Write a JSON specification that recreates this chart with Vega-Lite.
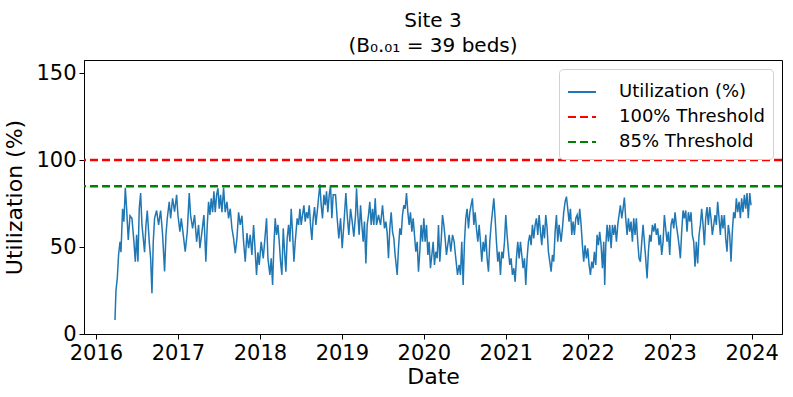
{
"$schema": "https://vega.github.io/schema/vega-lite/v6.json",
"width": 698, "height": 274,
"autosize": {"type": "none"},
"padding": {"left": 84, "top": 60, "right": 11, "bottom": 63},
"background": "white",
"title": {"text": ["Site 3", "(B₀.₀₁ = 39 beds)"], "font": "DejaVu Sans", "fontSize": 20, "fontWeight": "normal", "anchor": "middle", "offset": 4, "lineHeight": 25, "color": "black"},
"config": {
 "view": {"stroke": "black", "strokeWidth": 1},
 "axis": {"grid": false, "labelFont": "DejaVu Sans", "titleFont": "DejaVu Sans", "labelFontSize": 21, "titleFontSize": 22, "titleFontWeight": "normal", "labelColor": "black", "titleColor": "black", "tickColor": "black", "domainColor": "black", "tickSize": 5, "labelPadding": 3},
 "legend": {"orient": "none", "legendX": 475, "legendY": 9, "title": null, "labelFont": "DejaVu Sans", "labelFontSize": 18, "labelColor": "black", "symbolType": "stroke", "symbolSize": 784, "symbolStrokeWidth": 2, "fillColor": "white", "strokeColor": "#d0d0d0", "cornerRadius": 4, "padding": 8, "rowPadding": 1, "labelOffset": 22}
},
"datasets": {
 "util": [
{"t":2016.232,"u":8,"s":"Utilization (%)"},{"t":2016.244,"u":25,"s":"Utilization (%)"},{"t":2016.260,"u":32,"s":"Utilization (%)"},{"t":2016.276,"u":45.5,"s":"Utilization (%)"},{"t":2016.293,"u":53,"s":"Utilization (%)"},{"t":2016.305,"u":47,"s":"Utilization (%)"},{"t":2016.325,"u":72,"s":"Utilization (%)"},{"t":2016.341,"u":64.6,"s":"Utilization (%)"},{"t":2016.358,"u":84,"s":"Utilization (%)"},{"t":2016.374,"u":72,"s":"Utilization (%)"},{"t":2016.394,"u":54,"s":"Utilization (%)"},{"t":2016.415,"u":68,"s":"Utilization (%)"},{"t":2016.439,"u":66.5,"s":"Utilization (%)"},{"t":2016.463,"u":53,"s":"Utilization (%)"},{"t":2016.480,"u":41.6,"s":"Utilization (%)"},{"t":2016.496,"u":57,"s":"Utilization (%)"},{"t":2016.512,"u":41.6,"s":"Utilization (%)"},{"t":2016.528,"u":72,"s":"Utilization (%)"},{"t":2016.545,"u":81,"s":"Utilization (%)"},{"t":2016.561,"u":62.7,"s":"Utilization (%)"},{"t":2016.577,"u":55,"s":"Utilization (%)"},{"t":2016.593,"u":47,"s":"Utilization (%)"},{"t":2016.610,"u":62.7,"s":"Utilization (%)"},{"t":2016.626,"u":71,"s":"Utilization (%)"},{"t":2016.650,"u":53,"s":"Utilization (%)"},{"t":2016.667,"u":43.5,"s":"Utilization (%)"},{"t":2016.683,"u":23.4,"s":"Utilization (%)"},{"t":2016.699,"u":53,"s":"Utilization (%)"},{"t":2016.715,"u":66.5,"s":"Utilization (%)"},{"t":2016.740,"u":71,"s":"Utilization (%)"},{"t":2016.764,"u":62.7,"s":"Utilization (%)"},{"t":2016.789,"u":71,"s":"Utilization (%)"},{"t":2016.813,"u":57,"s":"Utilization (%)"},{"t":2016.837,"u":36,"s":"Utilization (%)"},{"t":2016.854,"u":57,"s":"Utilization (%)"},{"t":2016.870,"u":66.5,"s":"Utilization (%)"},{"t":2016.894,"u":76,"s":"Utilization (%)"},{"t":2016.911,"u":66.5,"s":"Utilization (%)"},{"t":2016.935,"u":78,"s":"Utilization (%)"},{"t":2016.959,"u":70.3,"s":"Utilization (%)"},{"t":2016.984,"u":80,"s":"Utilization (%)"},{"t":2017.000,"u":68.4,"s":"Utilization (%)"},{"t":2017.024,"u":58.8,"s":"Utilization (%)"},{"t":2017.041,"u":66.5,"s":"Utilization (%)"},{"t":2017.065,"u":57,"s":"Utilization (%)"},{"t":2017.089,"u":47.3,"s":"Utilization (%)"},{"t":2017.114,"u":58.8,"s":"Utilization (%)"},{"t":2017.138,"u":81,"s":"Utilization (%)"},{"t":2017.154,"u":68.4,"s":"Utilization (%)"},{"t":2017.179,"u":60.7,"s":"Utilization (%)"},{"t":2017.203,"u":68.4,"s":"Utilization (%)"},{"t":2017.228,"u":53,"s":"Utilization (%)"},{"t":2017.252,"u":62.7,"s":"Utilization (%)"},{"t":2017.268,"u":49.3,"s":"Utilization (%)"},{"t":2017.293,"u":58.8,"s":"Utilization (%)"},{"t":2017.317,"u":68.4,"s":"Utilization (%)"},{"t":2017.341,"u":41.6,"s":"Utilization (%)"},{"t":2017.358,"u":62.7,"s":"Utilization (%)"},{"t":2017.374,"u":76,"s":"Utilization (%)"},{"t":2017.390,"u":68.4,"s":"Utilization (%)"},{"t":2017.407,"u":78,"s":"Utilization (%)"},{"t":2017.423,"u":70,"s":"Utilization (%)"},{"t":2017.439,"u":82,"s":"Utilization (%)"},{"t":2017.455,"u":70,"s":"Utilization (%)"},{"t":2017.472,"u":80,"s":"Utilization (%)"},{"t":2017.488,"u":83.7,"s":"Utilization (%)"},{"t":2017.504,"u":72,"s":"Utilization (%)"},{"t":2017.520,"u":80,"s":"Utilization (%)"},{"t":2017.537,"u":70,"s":"Utilization (%)"},
{"t":2017.557,"u":84,"s":"Utilization (%)"},{"t":2017.577,"u":70,"s":"Utilization (%)"},{"t":2017.598,"u":76,"s":"Utilization (%)"},{"t":2017.618,"u":66.5,"s":"Utilization (%)"},{"t":2017.638,"u":72,"s":"Utilization (%)"},{"t":2017.659,"u":60.7,"s":"Utilization (%)"},{"t":2017.679,"u":55,"s":"Utilization (%)"},{"t":2017.699,"u":46.4,"s":"Utilization (%)"},{"t":2017.720,"u":55,"s":"Utilization (%)"},{"t":2017.740,"u":70,"s":"Utilization (%)"},{"t":2017.760,"u":62.7,"s":"Utilization (%)"},{"t":2017.781,"u":68,"s":"Utilization (%)"},{"t":2017.801,"u":53,"s":"Utilization (%)"},{"t":2017.821,"u":41.6,"s":"Utilization (%)"},{"t":2017.842,"u":58,"s":"Utilization (%)"},{"t":2017.862,"u":49.3,"s":"Utilization (%)"},{"t":2017.882,"u":57,"s":"Utilization (%)"},{"t":2017.902,"u":45.4,"s":"Utilization (%)"},{"t":2017.923,"u":62.7,"s":"Utilization (%)"},{"t":2017.943,"u":47.3,"s":"Utilization (%)"},{"t":2017.959,"u":34,"s":"Utilization (%)"},{"t":2017.976,"u":47,"s":"Utilization (%)"},{"t":2017.992,"u":39.7,"s":"Utilization (%)"},{"t":2018.016,"u":53,"s":"Utilization (%)"},{"t":2018.041,"u":43.5,"s":"Utilization (%)"},{"t":2018.065,"u":57,"s":"Utilization (%)"},{"t":2018.081,"u":66.5,"s":"Utilization (%)"},{"t":2018.098,"u":43.5,"s":"Utilization (%)"},{"t":2018.122,"u":34,"s":"Utilization (%)"},{"t":2018.138,"u":43.5,"s":"Utilization (%)"},{"t":2018.155,"u":28.2,"s":"Utilization (%)"},{"t":2018.171,"u":51,"s":"Utilization (%)"},{"t":2018.187,"u":66.5,"s":"Utilization (%)"},{"t":2018.203,"u":57,"s":"Utilization (%)"},{"t":2018.220,"u":62.7,"s":"Utilization (%)"},{"t":2018.236,"u":53,"s":"Utilization (%)"},{"t":2018.252,"u":41.6,"s":"Utilization (%)"},{"t":2018.268,"u":34,"s":"Utilization (%)"},{"t":2018.285,"u":60.7,"s":"Utilization (%)"},{"t":2018.301,"u":47.3,"s":"Utilization (%)"},{"t":2018.317,"u":35.8,"s":"Utilization (%)"},{"t":2018.333,"u":55,"s":"Utilization (%)"},{"t":2018.350,"u":62.7,"s":"Utilization (%)"},{"t":2018.366,"u":53,"s":"Utilization (%)"},{"t":2018.382,"u":72,"s":"Utilization (%)"},{"t":2018.398,"u":58.8,"s":"Utilization (%)"},{"t":2018.415,"u":41.6,"s":"Utilization (%)"},{"t":2018.431,"u":53,"s":"Utilization (%)"},{"t":2018.455,"u":66.5,"s":"Utilization (%)"},{"t":2018.472,"u":62.7,"s":"Utilization (%)"},{"t":2018.488,"u":72,"s":"Utilization (%)"},{"t":2018.504,"u":62.7,"s":"Utilization (%)"},{"t":2018.520,"u":68.4,"s":"Utilization (%)"},{"t":2018.537,"u":74,"s":"Utilization (%)"},{"t":2018.553,"u":64.6,"s":"Utilization (%)"},{"t":2018.569,"u":70,"s":"Utilization (%)"},{"t":2018.585,"u":66.5,"s":"Utilization (%)"},{"t":2018.602,"u":74,"s":"Utilization (%)"},{"t":2018.618,"u":62.7,"s":"Utilization (%)"},{"t":2018.634,"u":54,"s":"Utilization (%)"},{"t":2018.650,"u":66.5,"s":"Utilization (%)"},{"t":2018.667,"u":73,"s":"Utilization (%)"},{"t":2018.683,"u":62.7,"s":"Utilization (%)"},{"t":2018.699,"u":70,"s":"Utilization (%)"},{"t":2018.715,"u":78,"s":"Utilization (%)"},{"t":2018.732,"u":86,"s":"Utilization (%)"},{"t":2018.748,"u":74,"s":"Utilization (%)"},{"t":2018.764,"u":66.5,"s":"Utilization (%)"},{"t":2018.781,"u":80,"s":"Utilization (%)"},{"t":2018.797,"u":74,"s":"Utilization (%)"},{"t":2018.813,"u":82,"s":"Utilization (%)"},{"t":2018.829,"u":70,"s":"Utilization (%)"},{"t":2018.846,"u":80,"s":"Utilization (%)"},{"t":2018.862,"u":85.6,"s":"Utilization (%)"},{"t":2018.878,"u":66.5,"s":"Utilization (%)"},{"t":2018.894,"u":80,"s":"Utilization (%)"},
{"t":2018.923,"u":80,"s":"Utilization (%)"},{"t":2018.943,"u":66.5,"s":"Utilization (%)"},{"t":2018.963,"u":55,"s":"Utilization (%)"},{"t":2018.984,"u":66.5,"s":"Utilization (%)"},{"t":2019.004,"u":49.3,"s":"Utilization (%)"},{"t":2019.024,"u":62.7,"s":"Utilization (%)"},{"t":2019.049,"u":81,"s":"Utilization (%)"},{"t":2019.065,"u":68.4,"s":"Utilization (%)"},{"t":2019.085,"u":57,"s":"Utilization (%)"},{"t":2019.106,"u":72,"s":"Utilization (%)"},{"t":2019.126,"u":64.6,"s":"Utilization (%)"},{"t":2019.146,"u":56,"s":"Utilization (%)"},{"t":2019.167,"u":68.4,"s":"Utilization (%)"},{"t":2019.179,"u":83.7,"s":"Utilization (%)"},{"t":2019.195,"u":68.4,"s":"Utilization (%)"},{"t":2019.211,"u":57,"s":"Utilization (%)"},{"t":2019.228,"u":74,"s":"Utilization (%)"},{"t":2019.244,"u":62.7,"s":"Utilization (%)"},{"t":2019.260,"u":53,"s":"Utilization (%)"},{"t":2019.276,"u":64.6,"s":"Utilization (%)"},{"t":2019.293,"u":40.6,"s":"Utilization (%)"},{"t":2019.309,"u":62.7,"s":"Utilization (%)"},{"t":2019.325,"u":68.4,"s":"Utilization (%)"},{"t":2019.341,"u":76,"s":"Utilization (%)"},{"t":2019.358,"u":62.7,"s":"Utilization (%)"},{"t":2019.374,"u":72,"s":"Utilization (%)"},{"t":2019.390,"u":62.7,"s":"Utilization (%)"},{"t":2019.407,"u":78,"s":"Utilization (%)"},{"t":2019.423,"u":62.7,"s":"Utilization (%)"},{"t":2019.447,"u":68.4,"s":"Utilization (%)"},{"t":2019.472,"u":62.7,"s":"Utilization (%)"},{"t":2019.496,"u":74,"s":"Utilization (%)"},{"t":2019.520,"u":60.7,"s":"Utilization (%)"},{"t":2019.537,"u":64.6,"s":"Utilization (%)"},{"t":2019.553,"u":58,"s":"Utilization (%)"},{"t":2019.569,"u":43.5,"s":"Utilization (%)"},{"t":2019.585,"u":60.7,"s":"Utilization (%)"},{"t":2019.602,"u":70,"s":"Utilization (%)"},{"t":2019.618,"u":58.8,"s":"Utilization (%)"},{"t":2019.634,"u":55,"s":"Utilization (%)"},{"t":2019.650,"u":45.4,"s":"Utilization (%)"},{"t":2019.667,"u":37.8,"s":"Utilization (%)"},{"t":2019.675,"u":34,"s":"Utilization (%)"},{"t":2019.691,"u":49.3,"s":"Utilization (%)"},{"t":2019.707,"u":60.7,"s":"Utilization (%)"},{"t":2019.724,"u":57,"s":"Utilization (%)"},{"t":2019.740,"u":68.4,"s":"Utilization (%)"},{"t":2019.756,"u":74,"s":"Utilization (%)"},{"t":2019.772,"u":72,"s":"Utilization (%)"},{"t":2019.789,"u":81,"s":"Utilization (%)"},{"t":2019.805,"u":70,"s":"Utilization (%)"},{"t":2019.821,"u":62.7,"s":"Utilization (%)"},{"t":2019.837,"u":70,"s":"Utilization (%)"},{"t":2019.854,"u":58.8,"s":"Utilization (%)"},{"t":2019.870,"u":66.5,"s":"Utilization (%)"},{"t":2019.886,"u":57,"s":"Utilization (%)"},{"t":2019.902,"u":47.3,"s":"Utilization (%)"},{"t":2019.919,"u":53,"s":"Utilization (%)"},{"t":2019.935,"u":35.8,"s":"Utilization (%)"},{"t":2019.951,"u":47.3,"s":"Utilization (%)"},{"t":2019.967,"u":62.7,"s":"Utilization (%)"},{"t":2019.984,"u":53,"s":"Utilization (%)"},{"t":2020.000,"u":66.5,"s":"Utilization (%)"},{"t":2020.016,"u":53,"s":"Utilization (%)"},{"t":2020.033,"u":62.7,"s":"Utilization (%)"},{"t":2020.049,"u":45.4,"s":"Utilization (%)"},{"t":2020.065,"u":53,"s":"Utilization (%)"},{"t":2020.081,"u":37.8,"s":"Utilization (%)"},{"t":2020.098,"u":45.4,"s":"Utilization (%)"},{"t":2020.114,"u":53,"s":"Utilization (%)"},{"t":2020.130,"u":39.7,"s":"Utilization (%)"},{"t":2020.146,"u":47.3,"s":"Utilization (%)"},{"t":2020.163,"u":43.5,"s":"Utilization (%)"},{"t":2020.179,"u":62.7,"s":"Utilization (%)"},{"t":2020.195,"u":41.6,"s":"Utilization (%)"},{"t":2020.211,"u":53,"s":"Utilization (%)"},{"t":2020.228,"u":68.4,"s":"Utilization (%)"},{"t":2020.244,"u":62.7,"s":"Utilization (%)"},{"t":2020.260,"u":55,"s":"Utilization (%)"},{"t":2020.276,"u":45.4,"s":"Utilization (%)"},
{"t":2020.309,"u":57,"s":"Utilization (%)"},{"t":2020.329,"u":47.3,"s":"Utilization (%)"},{"t":2020.350,"u":57,"s":"Utilization (%)"},{"t":2020.370,"u":53,"s":"Utilization (%)"},{"t":2020.390,"u":43.5,"s":"Utilization (%)"},{"t":2020.411,"u":34,"s":"Utilization (%)"},{"t":2020.431,"u":39.7,"s":"Utilization (%)"},{"t":2020.447,"u":34,"s":"Utilization (%)"},{"t":2020.463,"u":53,"s":"Utilization (%)"},{"t":2020.480,"u":28.2,"s":"Utilization (%)"},{"t":2020.496,"u":53,"s":"Utilization (%)"},{"t":2020.512,"u":66.5,"s":"Utilization (%)"},{"t":2020.528,"u":72,"s":"Utilization (%)"},{"t":2020.545,"u":60.7,"s":"Utilization (%)"},{"t":2020.561,"u":70,"s":"Utilization (%)"},{"t":2020.577,"u":74,"s":"Utilization (%)"},{"t":2020.593,"u":78,"s":"Utilization (%)"},{"t":2020.610,"u":62.7,"s":"Utilization (%)"},{"t":2020.626,"u":70,"s":"Utilization (%)"},{"t":2020.642,"u":60.7,"s":"Utilization (%)"},{"t":2020.659,"u":53,"s":"Utilization (%)"},{"t":2020.675,"u":62.7,"s":"Utilization (%)"},{"t":2020.691,"u":53,"s":"Utilization (%)"},{"t":2020.707,"u":41.6,"s":"Utilization (%)"},{"t":2020.724,"u":53,"s":"Utilization (%)"},{"t":2020.740,"u":47.3,"s":"Utilization (%)"},{"t":2020.756,"u":57,"s":"Utilization (%)"},{"t":2020.772,"u":43.5,"s":"Utilization (%)"},{"t":2020.789,"u":35.8,"s":"Utilization (%)"},{"t":2020.805,"u":53,"s":"Utilization (%)"},{"t":2020.821,"u":62.7,"s":"Utilization (%)"},{"t":2020.837,"u":70,"s":"Utilization (%)"},{"t":2020.854,"u":78,"s":"Utilization (%)"},{"t":2020.870,"u":66.5,"s":"Utilization (%)"},{"t":2020.886,"u":53,"s":"Utilization (%)"},{"t":2020.902,"u":41.6,"s":"Utilization (%)"},{"t":2020.919,"u":47.3,"s":"Utilization (%)"},{"t":2020.935,"u":34,"s":"Utilization (%)"},{"t":2020.951,"u":47.3,"s":"Utilization (%)"},{"t":2020.967,"u":43.5,"s":"Utilization (%)"},{"t":2020.984,"u":53,"s":"Utilization (%)"},{"t":2021.000,"u":68.4,"s":"Utilization (%)"},{"t":2021.016,"u":57,"s":"Utilization (%)"},{"t":2021.033,"u":47.3,"s":"Utilization (%)"},{"t":2021.049,"u":39.7,"s":"Utilization (%)"},{"t":2021.065,"u":43.5,"s":"Utilization (%)"},{"t":2021.081,"u":34,"s":"Utilization (%)"},{"t":2021.098,"u":37.8,"s":"Utilization (%)"},{"t":2021.114,"u":30,"s":"Utilization (%)"},{"t":2021.130,"u":43.5,"s":"Utilization (%)"},{"t":2021.146,"u":53,"s":"Utilization (%)"},{"t":2021.163,"u":43.5,"s":"Utilization (%)"},{"t":2021.179,"u":53,"s":"Utilization (%)"},{"t":2021.195,"u":45.4,"s":"Utilization (%)"},{"t":2021.211,"u":37.8,"s":"Utilization (%)"},{"t":2021.228,"u":43.5,"s":"Utilization (%)"},{"t":2021.244,"u":28.2,"s":"Utilization (%)"},{"t":2021.260,"u":43.5,"s":"Utilization (%)"},{"t":2021.276,"u":53,"s":"Utilization (%)"},{"t":2021.293,"u":57,"s":"Utilization (%)"},{"t":2021.309,"u":51,"s":"Utilization (%)"},{"t":2021.325,"u":62.7,"s":"Utilization (%)"},{"t":2021.341,"u":55,"s":"Utilization (%)"},{"t":2021.358,"u":62.7,"s":"Utilization (%)"},{"t":2021.374,"u":66.5,"s":"Utilization (%)"},{"t":2021.390,"u":57,"s":"Utilization (%)"},{"t":2021.407,"u":68.4,"s":"Utilization (%)"},{"t":2021.423,"u":58.8,"s":"Utilization (%)"},{"t":2021.439,"u":51,"s":"Utilization (%)"},{"t":2021.455,"u":62.7,"s":"Utilization (%)"},{"t":2021.472,"u":55,"s":"Utilization (%)"},{"t":2021.488,"u":68.4,"s":"Utilization (%)"},{"t":2021.504,"u":60.7,"s":"Utilization (%)"},{"t":2021.520,"u":47.3,"s":"Utilization (%)"},{"t":2021.537,"u":41.6,"s":"Utilization (%)"},{"t":2021.553,"u":35.8,"s":"Utilization (%)"},{"t":2021.569,"u":45.4,"s":"Utilization (%)"},{"t":2021.585,"u":41.6,"s":"Utilization (%)"},{"t":2021.602,"u":58.8,"s":"Utilization (%)"},{"t":2021.618,"u":68.4,"s":"Utilization (%)"},{"t":2021.634,"u":53,"s":"Utilization (%)"},{"t":2021.650,"u":62.7,"s":"Utilization (%)"},
{"t":2021.675,"u":53,"s":"Utilization (%)"},{"t":2021.691,"u":60.7,"s":"Utilization (%)"},{"t":2021.707,"u":70,"s":"Utilization (%)"},{"t":2021.724,"u":76,"s":"Utilization (%)"},{"t":2021.740,"u":79,"s":"Utilization (%)"},{"t":2021.756,"u":72,"s":"Utilization (%)"},{"t":2021.772,"u":64.6,"s":"Utilization (%)"},{"t":2021.789,"u":72,"s":"Utilization (%)"},{"t":2021.805,"u":57,"s":"Utilization (%)"},{"t":2021.821,"u":64.6,"s":"Utilization (%)"},{"t":2021.837,"u":57,"s":"Utilization (%)"},{"t":2021.854,"u":66.5,"s":"Utilization (%)"},{"t":2021.870,"u":68.4,"s":"Utilization (%)"},{"t":2021.886,"u":62.7,"s":"Utilization (%)"},{"t":2021.902,"u":72,"s":"Utilization (%)"},{"t":2021.919,"u":62.7,"s":"Utilization (%)"},{"t":2021.935,"u":51,"s":"Utilization (%)"},{"t":2021.951,"u":41.6,"s":"Utilization (%)"},{"t":2021.967,"u":51,"s":"Utilization (%)"},{"t":2021.984,"u":43.5,"s":"Utilization (%)"},{"t":2022.000,"u":49.3,"s":"Utilization (%)"},{"t":2022.016,"u":39.7,"s":"Utilization (%)"},{"t":2022.033,"u":34,"s":"Utilization (%)"},{"t":2022.049,"u":41.6,"s":"Utilization (%)"},{"t":2022.065,"u":37.8,"s":"Utilization (%)"},{"t":2022.081,"u":47.3,"s":"Utilization (%)"},{"t":2022.098,"u":39.7,"s":"Utilization (%)"},{"t":2022.114,"u":57,"s":"Utilization (%)"},{"t":2022.130,"u":51,"s":"Utilization (%)"},{"t":2022.146,"u":58.8,"s":"Utilization (%)"},{"t":2022.163,"u":51,"s":"Utilization (%)"},{"t":2022.179,"u":37.8,"s":"Utilization (%)"},{"t":2022.195,"u":53,"s":"Utilization (%)"},{"t":2022.207,"u":28.2,"s":"Utilization (%)"},{"t":2022.220,"u":51,"s":"Utilization (%)"},{"t":2022.236,"u":62.7,"s":"Utilization (%)"},{"t":2022.252,"u":53,"s":"Utilization (%)"},{"t":2022.268,"u":62.7,"s":"Utilization (%)"},{"t":2022.285,"u":49.3,"s":"Utilization (%)"},{"t":2022.301,"u":62.7,"s":"Utilization (%)"},{"t":2022.317,"u":57,"s":"Utilization (%)"},{"t":2022.333,"u":62.7,"s":"Utilization (%)"},{"t":2022.350,"u":53,"s":"Utilization (%)"},{"t":2022.366,"u":62.7,"s":"Utilization (%)"},{"t":2022.382,"u":68.4,"s":"Utilization (%)"},{"t":2022.398,"u":74,"s":"Utilization (%)"},{"t":2022.415,"u":66.5,"s":"Utilization (%)"},{"t":2022.431,"u":72,"s":"Utilization (%)"},{"t":2022.447,"u":78.4,"s":"Utilization (%)"},{"t":2022.463,"u":66.5,"s":"Utilization (%)"},{"t":2022.480,"u":57,"s":"Utilization (%)"},{"t":2022.496,"u":66.5,"s":"Utilization (%)"},{"t":2022.512,"u":58.8,"s":"Utilization (%)"},{"t":2022.528,"u":64.6,"s":"Utilization (%)"},{"t":2022.545,"u":53,"s":"Utilization (%)"},{"t":2022.561,"u":66.5,"s":"Utilization (%)"},{"t":2022.577,"u":57,"s":"Utilization (%)"},{"t":2022.593,"u":66.5,"s":"Utilization (%)"},{"t":2022.610,"u":53,"s":"Utilization (%)"},{"t":2022.626,"u":43.5,"s":"Utilization (%)"},{"t":2022.642,"u":41.6,"s":"Utilization (%)"},{"t":2022.659,"u":53,"s":"Utilization (%)"},{"t":2022.675,"u":62.7,"s":"Utilization (%)"},{"t":2022.691,"u":53,"s":"Utilization (%)"},{"t":2022.707,"u":43.5,"s":"Utilization (%)"},{"t":2022.724,"u":32,"s":"Utilization (%)"},{"t":2022.740,"u":47.3,"s":"Utilization (%)"},{"t":2022.756,"u":57,"s":"Utilization (%)"},{"t":2022.772,"u":53,"s":"Utilization (%)"},{"t":2022.789,"u":62.7,"s":"Utilization (%)"},{"t":2022.805,"u":58.8,"s":"Utilization (%)"},{"t":2022.821,"u":63.6,"s":"Utilization (%)"},{"t":2022.837,"u":57,"s":"Utilization (%)"},{"t":2022.854,"u":60.7,"s":"Utilization (%)"},{"t":2022.870,"u":51,"s":"Utilization (%)"},{"t":2022.886,"u":57,"s":"Utilization (%)"},{"t":2022.902,"u":45.4,"s":"Utilization (%)"},{"t":2022.919,"u":53,"s":"Utilization (%)"},{"t":2022.935,"u":68.4,"s":"Utilization (%)"},{"t":2022.951,"u":60.7,"s":"Utilization (%)"},{"t":2022.967,"u":53,"s":"Utilization (%)"},{"t":2022.984,"u":58.8,"s":"Utilization (%)"},{"t":2023.000,"u":45.4,"s":"Utilization (%)"},{"t":2023.016,"u":62.7,"s":"Utilization (%)"},
{"t":2023.033,"u":66.5,"s":"Utilization (%)"},{"t":2023.049,"u":60.7,"s":"Utilization (%)"},{"t":2023.065,"u":70,"s":"Utilization (%)"},{"t":2023.081,"u":62.7,"s":"Utilization (%)"},{"t":2023.098,"u":57,"s":"Utilization (%)"},{"t":2023.114,"u":51,"s":"Utilization (%)"},{"t":2023.130,"u":43.5,"s":"Utilization (%)"},{"t":2023.146,"u":58.8,"s":"Utilization (%)"},{"t":2023.163,"u":71,"s":"Utilization (%)"},{"t":2023.179,"u":66.5,"s":"Utilization (%)"},{"t":2023.195,"u":71,"s":"Utilization (%)"},{"t":2023.211,"u":58.8,"s":"Utilization (%)"},{"t":2023.228,"u":70,"s":"Utilization (%)"},{"t":2023.244,"u":64.6,"s":"Utilization (%)"},{"t":2023.260,"u":70,"s":"Utilization (%)"},{"t":2023.276,"u":57,"s":"Utilization (%)"},{"t":2023.293,"u":53,"s":"Utilization (%)"},{"t":2023.309,"u":38.7,"s":"Utilization (%)"},{"t":2023.325,"u":53,"s":"Utilization (%)"},{"t":2023.341,"u":40.6,"s":"Utilization (%)"},{"t":2023.358,"u":57,"s":"Utilization (%)"},{"t":2023.374,"u":62.7,"s":"Utilization (%)"},{"t":2023.390,"u":72,"s":"Utilization (%)"},{"t":2023.407,"u":62.7,"s":"Utilization (%)"},{"t":2023.423,"u":51,"s":"Utilization (%)"},{"t":2023.439,"u":66.5,"s":"Utilization (%)"},{"t":2023.455,"u":73,"s":"Utilization (%)"},{"t":2023.472,"u":62.7,"s":"Utilization (%)"},{"t":2023.488,"u":73,"s":"Utilization (%)"},{"t":2023.504,"u":66.5,"s":"Utilization (%)"},{"t":2023.520,"u":57,"s":"Utilization (%)"},{"t":2023.537,"u":62.7,"s":"Utilization (%)"},{"t":2023.553,"u":68.4,"s":"Utilization (%)"},{"t":2023.569,"u":62.7,"s":"Utilization (%)"},{"t":2023.585,"u":76,"s":"Utilization (%)"},{"t":2023.602,"u":66.5,"s":"Utilization (%)"},{"t":2023.618,"u":57,"s":"Utilization (%)"},{"t":2023.634,"u":68.4,"s":"Utilization (%)"},{"t":2023.650,"u":60.7,"s":"Utilization (%)"},{"t":2023.667,"u":68.4,"s":"Utilization (%)"},{"t":2023.683,"u":55,"s":"Utilization (%)"},{"t":2023.699,"u":47.3,"s":"Utilization (%)"},{"t":2023.715,"u":62.7,"s":"Utilization (%)"},{"t":2023.732,"u":57,"s":"Utilization (%)"},{"t":2023.748,"u":41.6,"s":"Utilization (%)"},{"t":2023.764,"u":58.8,"s":"Utilization (%)"},{"t":2023.780,"u":70,"s":"Utilization (%)"},{"t":2023.797,"u":66.5,"s":"Utilization (%)"},{"t":2023.813,"u":78,"s":"Utilization (%)"},{"t":2023.829,"u":70,"s":"Utilization (%)"},{"t":2023.846,"u":76,"s":"Utilization (%)"},{"t":2023.862,"u":66.5,"s":"Utilization (%)"},{"t":2023.878,"u":78,"s":"Utilization (%)"},{"t":2023.894,"u":70,"s":"Utilization (%)"},{"t":2023.911,"u":80,"s":"Utilization (%)"},{"t":2023.927,"u":72,"s":"Utilization (%)"},{"t":2023.943,"u":81,"s":"Utilization (%)"},{"t":2023.959,"u":66.5,"s":"Utilization (%)"},{"t":2023.976,"u":81,"s":"Utilization (%)"},{"t":2023.992,"u":74,"s":"Utilization (%)"}
 ],
 "thresholds": [
  {"s": "100% Threshold", "v": 100},
  {"s": "85% Threshold", "v": 85}
 ]
},
"layer": [
 {
  "data": {"name": "util"},
  "mark": {"type": "line", "strokeWidth": 1.5, "clip": true},
  "encoding": {
   "x": {"field": "t", "type": "quantitative", "scale": {"domain": [2015.854, 2024.37], "nice": false, "zero": false}, "axis": {"title": "Date", "values": [2016, 2017, 2018, 2019, 2020, 2021, 2022, 2023, 2024], "format": "d", "titlePadding": 3}},
   "y": {"field": "u", "type": "quantitative", "scale": {"domain": [0, 157.5], "nice": false}, "axis": {"title": "Utilization (%)", "values": [0, 50, 100, 150], "titlePadding": 9}},
   "color": {"field": "s", "type": "nominal", "scale": {"domain": ["Utilization (%)", "100% Threshold", "85% Threshold"], "range": ["#1f77b4", "#ff0000", "#008000"]}},
   "strokeDash": {"field": "s", "type": "nominal", "scale": {"domain": ["Utilization (%)", "100% Threshold", "85% Threshold"], "range": [[1, 0], [8, 4], [8, 4]]}}
  }
 },
 {
  "data": {"name": "thresholds"},
  "mark": {"type": "rule", "strokeWidth": 2.5},
  "encoding": {
   "y": {"field": "v", "type": "quantitative"},
   "color": {"field": "s", "type": "nominal"},
   "strokeDash": {"field": "s", "type": "nominal"}
  }
 }
]
}
